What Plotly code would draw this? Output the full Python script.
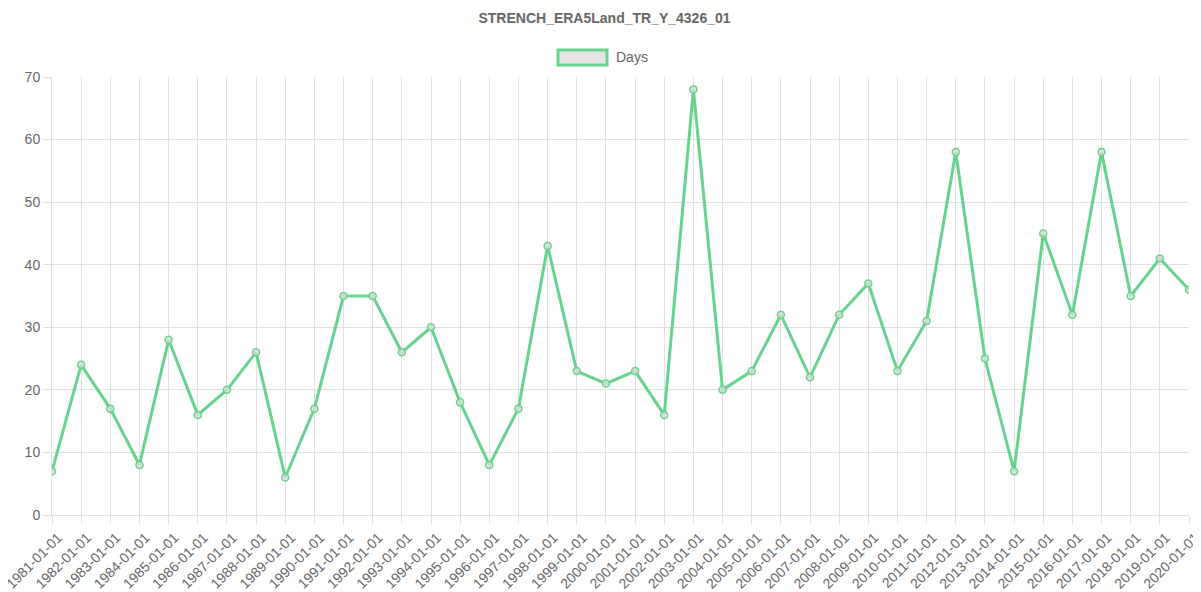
import plotly.graph_objects as go

years = list(range(1981, 2021))
dates = [f"{y}-01-01" for y in years]
days = [7, 24, 17, 8, 28, 16, 20, 26, 6, 17,
        35, 35, 26, 30, 18, 8, 17, 43, 23, 21,
        23, 16, 68, 20, 23, 32, 22, 32, 37, 23,
        31, 58, 25, 7, 45, 32, 58, 35, 41, 36]

green = "rgb(104,211,143)"
grid = "rgb(225,225,225)"
txt = "#666666"
font = "Liberation Sans, Arial, sans-serif"

fig = go.Figure()
fig.add_trace(go.Scatter(
    x=dates, y=days, mode="lines+markers", name="Days",
    line=dict(color=green, width=3),
    marker=dict(size=7, color="rgba(220,220,220,0.8)", line=dict(color=green, width=1.5)),
    showlegend=False,
))

# page body has an 8px margin, so the figure is a bit smaller than the window
fig.update_layout(
    width=1193, height=584,
    margin=dict(l=44, r=12, t=69, b=77),
    paper_bgcolor="white", plot_bgcolor="white",
    font=dict(family=font, size=14, color=txt),
    title=dict(text="<b>STRENCH_ERA5Land_TR_Y_4326_01</b>", x=0.5, xanchor="center",
               y=1 - 10 / 584, yanchor="middle", font=dict(size=14, color=txt)),
    shapes=[dict(type="rect", xref="paper", yref="paper",
                 x0=(558 - 52) / 1137, x1=(607 - 52) / 1137,
                 y0=(515 - 65) / 438, y1=(515 - 50) / 438,
                 fillcolor="rgb(228,228,228)", line=dict(color=green, width=3))],
    annotations=[dict(text="Days", xref="paper", yref="paper",
                      x=(614 - 52) / 1137, y=(515 - 57) / 438,
                      xanchor="left", yanchor="middle", showarrow=False,
                      font=dict(size=14, color=txt))],
)

fig.update_xaxes(
    type="category", range=[0, len(dates) - 1], automargin=False,
    showgrid=True, gridcolor=grid, gridwidth=1,
    showline=True, linecolor=grid, linewidth=1,
    ticks="outside", ticklen=8, tickcolor=grid,
    tickangle=-45, tickfont=dict(size=14, color=txt),
    ticklabelshift=6,
    zeroline=False,
)
fig.update_yaxes(
    range=[0, 70], dtick=10, automargin=False,
    showgrid=True, gridcolor=grid, gridwidth=1,
    showline=True, linecolor=grid, linewidth=1,
    ticks="outside", ticklen=8, tickcolor=grid,
    tickfont=dict(size=14, color=txt),
    zeroline=False,
)

fig.write_html("out.html")
